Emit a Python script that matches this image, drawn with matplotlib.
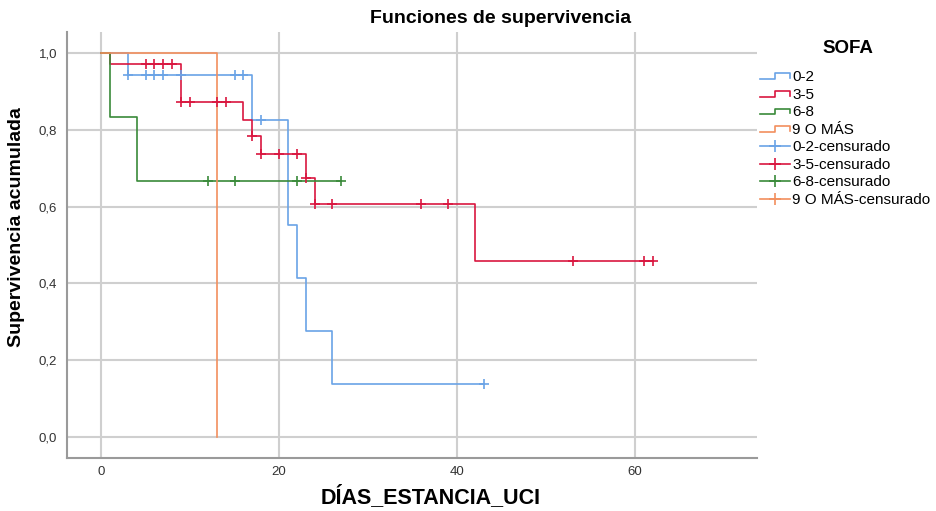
import numpy as np
import matplotlib
matplotlib.use("Agg")
import matplotlib.pyplot as plt
from matplotlib.lines import Line2D
from matplotlib.legend_handler import HandlerBase

plt.rcParams['font.family'] = ['Liberation Sans', 'DejaVu Sans']

# Kaplan-Meier steps (time, cumulative survival)
groups = ["0-2", "3-5", "6-8", "9 O MÁS"]
colors = ["#6aa3e6", "#d9163f", "#3a8a3a", "#f28f5e"]

times_02 = [0, 3, 17, 21, 22, 23, 26, 43]
surv_02 = [1.0, 0.944, 0.827, 0.552, 0.414, 0.276, 0.138, 0.138]
cens_02 = [3, 5, 6, 7, 9, 15, 16, 18, 43]

times_35 = [0, 1, 9, 16, 17, 18, 23, 24, 42, 62]
surv_35 = [1.0, 0.972, 0.872, 0.827, 0.783, 0.737, 0.675, 0.607, 0.458, 0.458]
cens_35 = [5, 6, 7, 8, 9, 10, 13, 14, 17, 18, 20, 22, 23, 24, 26, 36, 39, 53, 61, 62]

times_68 = [0, 1, 4, 27]
surv_68 = [1.0, 0.833, 0.667, 0.667]
cens_68 = [12, 15, 22, 27]

times_9 = [0, 13]
surv_9 = [1.0, 0.0]
cens_9 = []

all_times = [times_02, times_35, times_68, times_9]
all_surv = [surv_02, surv_35, surv_68, surv_9]
all_cens = [cens_02, cens_35, cens_68, cens_9]

x_ticks = [0, 20, 40, 60]
y_ticks = [0.0, 0.2, 0.4, 0.6, 0.8, 1.0]


class StepHandler(HandlerBase):
    def create_artists(self, legend, orig_handle, xdescent, ydescent,
                       width, height, fontsize, trans):
        x0 = -xdescent
        xs = [x0, x0 + 0.5 * width, x0 + 0.5 * width, x0 + width, x0 + width]
        lo, hi = height * 0.15, height * 0.7
        ys = [lo, lo, hi, hi, lo + 0.1 * height]
        ln = Line2D(xs, ys, color=orig_handle.get_color(), lw=1.2)
        ln.set_transform(trans)
        return [ln]


class CensHandler(HandlerBase):
    def create_artists(self, legend, orig_handle, xdescent, ydescent,
                       width, height, fontsize, trans):
        x0 = -xdescent
        yc = height * 0.45
        ln = Line2D([x0, x0 + width], [yc, yc], color=orig_handle.get_color(), lw=1.2)
        mk = Line2D([x0 + width / 2], [yc], color=orig_handle.get_color(),
                    marker='+', markersize=8, mew=1.2, ls='none')
        ln.set_transform(trans)
        mk.set_transform(trans)
        return [ln, mk]


fig = plt.figure(figsize=(9.36, 5.11), dpi=100)
ax = fig.add_axes([0.0716, 0.1037, 0.8088 - 0.0716, 0.937 - 0.1037])

for t, s, c in zip(all_times, all_surv, colors):
    ax.step(t, s, where='post', color=c, lw=1.2, zorder=3)

for t, s, cen, c in zip(all_times, all_surv, all_cens, colors):
    if not cen:
        continue
    idx = np.searchsorted(t, cen, side='right') - 1
    ax.plot(cen, np.array(s)[idx], ls='none', marker='+', markersize=7.5,
            mew=1.2, color=c, zorder=4)

ax.set_xlim(-3.82, 73.7)
ax.set_ylim(-0.0547, 1.0547)
ax.set_xticks(x_ticks)
ax.set_yticks(y_ticks)
ax.set_yticklabels([f"{v:.1f}".replace('.', ',') for v in y_ticks])
ax.tick_params(axis='both', length=0, labelsize=9.5, colors='#333333')
ax.tick_params(axis='y', pad=7)
ax.tick_params(axis='x', pad=6)
ax.grid(True, color='#cfcfcf', lw=1.5, zorder=0)
ax.set_axisbelow(True)
for side in ['top', 'right']:
    ax.spines[side].set_visible(False)
for side in ['left', 'bottom']:
    ax.spines[side].set_color('#9a9a9a')
    ax.spines[side].set_linewidth(1.5)

fig.text(0.535, 0.963, "Funciones de supervivencia", ha='center', va='center',
         fontsize=14, fontweight='bold')
fig.text(0.46, 0.028, "DÍAS_ESTANCIA_UCI", ha='center', va='center',
         fontsize=15.5, fontweight='bold')
fig.text(0.018, 0.556, "Supervivencia acumulada", ha='center', va='center',
         rotation=90, fontsize=14, fontweight='bold')
fig.text(0.906, 0.906, "SOFA", ha='center', va='center',
         fontsize=13.5, fontweight='bold')

step_handles = [Line2D([], [], color=c) for c in colors]
cens_handles = [Line2D([], [], color=c, marker='+') for c in colors]
handler_map = {h: StepHandler() for h in step_handles}
handler_map.update({h: CensHandler() for h in cens_handles})
labels = groups + [g + "-censurado" for g in groups]
leg = fig.legend(step_handles + cens_handles, labels, handler_map=handler_map,
                 loc='upper left', bbox_to_anchor=(0.805, 0.875), frameon=False,
                 fontsize=11, handlelength=2.0, handletextpad=0.15,
                 labelspacing=0.23, borderaxespad=0)

fig.savefig("out.png", dpi=100)
